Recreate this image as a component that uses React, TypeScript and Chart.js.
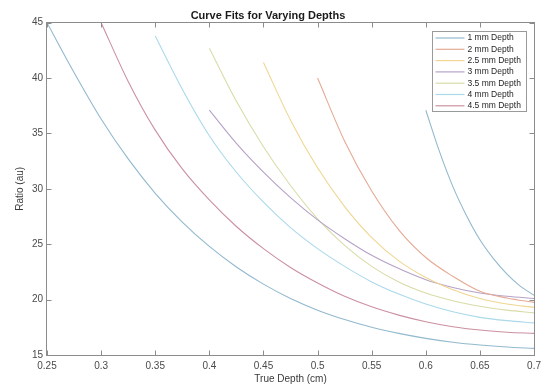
import { useEffect, useRef } from 'react';
import { Chart, registerables } from 'chart.js';

Chart.register(...registerables);

// ---- Data ----
const seriesLabels = ['1 mm Depth', '2 mm Depth', '2.5 mm Depth', '3 mm Depth', '3.5 mm Depth', '4 mm Depth', '4.5 mm Depth'];

const x1mm = [0.6, 0.6125, 0.625, 0.6375, 0.65, 0.6625, 0.675, 0.6875, 0.7];
const y1mm = [37.1, 33.4, 30.2, 27.6, 25.4, 23.7, 22.3, 21.2, 20.4];

const x2mm = [0.5, 0.525, 0.55, 0.575, 0.6, 0.625, 0.65, 0.675, 0.7];
const y2mm = [40, 34.3, 29.8, 26.3, 23.8, 22.1, 20.75, 20.15, 19.75];

const x25mm = [0.45, 0.475, 0.5, 0.525, 0.55, 0.575, 0.6, 0.625, 0.65, 0.675, 0.7];
const y25mm = [41.4, 36.2, 31.9, 28.4, 25.6, 23.5, 22.0, 20.9, 20.1, 19.6, 19.3];

const x3mm = [0.4, 0.425, 0.45, 0.475, 0.5, 0.525, 0.55, 0.575, 0.6, 0.625, 0.65, 0.675, 0.7];
const y3mm = [37.1, 34.1, 31.5, 29.2, 27.2, 25.5, 24.0, 22.8, 21.8, 21.1, 20.6, 20.3, 20.1];

const x35mm = [0.4, 0.425, 0.45, 0.475, 0.5, 0.525, 0.55, 0.575, 0.6, 0.625, 0.65, 0.675, 0.7];
const y35mm = [42.7, 37.9, 33.8, 30.3, 27.3, 24.9, 23.0, 21.6, 20.6, 19.9, 19.4, 19.05, 18.8];

const x4mm = [0.35, 0.375, 0.4, 0.425, 0.45, 0.475, 0.5, 0.525, 0.55, 0.575, 0.6, 0.625, 0.65, 0.675, 0.7];
const y4mm = [43.8, 39.0, 34.8, 31.5, 28.8, 26.5, 24.6, 23.0, 21.6, 20.5, 19.6, 18.9, 18.4, 18.1, 17.9];

const x45mm = [0.3, 0.325, 0.35, 0.375, 0.4, 0.425, 0.45, 0.475, 0.5, 0.525, 0.55, 0.575, 0.6, 0.625, 0.65, 0.675, 0.7];
const y45mm = [45, 39.7, 35.3, 31.8, 29.0, 26.6, 24.6, 22.9, 21.5, 20.3, 19.35, 18.6, 18.0, 17.55, 17.25, 17.05, 16.95];

// eighth curve (colour cycle restarts, not in legend)
const xExtra = [0.25, 0.275, 0.3, 0.325, 0.35, 0.375, 0.4, 0.425, 0.45, 0.475, 0.5, 0.525, 0.55, 0.575, 0.6, 0.625, 0.65, 0.675, 0.7];
const yExtra = [45, 40.5, 36.3, 32.7, 29.6, 27.0, 24.8, 22.95, 21.4, 20.1, 19.05, 18.2, 17.5, 16.95, 16.5, 16.15, 15.9, 15.72, 15.6];

const xTickLabels = ['0.25', '0.3', '0.35', '0.4', '0.45', '0.5', '0.55', '0.6', '0.65', '0.7'];
const yTickLabels = ['15', '20', '25', '30', '35', '40', '45'];

const seriesColors = ['#92b9ce', '#e5aa94', '#efd692', '#b6a2c8', '#d9dca8', '#abd9ea', '#cb91a0'];

const FONT = '"Liberation Sans", Arial, Helvetica, sans-serif';

const framePlugin = {
  id: 'matlabFrame',
  afterDraw(chart: any) {
    const { ctx, chartArea: a, scales } = chart;
    const xs = scales.x;
    const ys = scales.y;
    ctx.save();
    ctx.strokeStyle = '#8c8c8c';
    ctx.lineWidth = 1;
    const L = Math.round(a.left) - 0.5;
    const R = Math.round(a.right) + 0.5;
    const T = Math.round(a.top) - 0.5;
    const B = Math.round(a.bottom) + 0.5;
    ctx.strokeRect(L, T, R - L, B - T);
    ctx.beginPath();
    xs.ticks.forEach((t: any) => {
      const px = Math.round(xs.getPixelForValue(t.value)) + 0.5;
      ctx.moveTo(px, B);
      ctx.lineTo(px, B - 5);
      ctx.moveTo(px, T);
      ctx.lineTo(px, T + 5);
    });
    ys.ticks.forEach((t: any) => {
      const py = Math.round(ys.getPixelForValue(t.value)) + 0.5;
      ctx.moveTo(L, py);
      ctx.lineTo(L + 5, py);
      ctx.moveTo(R, py);
      ctx.lineTo(R - 5, py);
    });
    ctx.stroke();
    ctx.restore();
  },
};

const legendPlugin = {
  id: 'boxLegend',
  afterDraw(chart: any) {
    const { ctx, chartArea: a } = chart;
    const w = 94;
    const h = 80;
    const left = Math.round(a.right - 8 - w) + 0.5;
    const top = Math.round(a.top + 8) + 0.5;
    ctx.save();
    ctx.fillStyle = '#ffffff';
    ctx.fillRect(left, top, w, h);
    ctx.strokeStyle = '#9a9a9a';
    ctx.lineWidth = 1;
    ctx.strokeRect(left, top, w, h);
    ctx.font = `8.5px ${FONT}`;
    ctx.textBaseline = 'middle';
    ctx.textAlign = 'left';
    seriesLabels.forEach((lab, i) => {
      const y = top + 6.5 + i * 11.3;
      ctx.strokeStyle = seriesColors[i];
      ctx.lineWidth = 1.2;
      ctx.beginPath();
      ctx.moveTo(left + 3, y);
      ctx.lineTo(left + 32, y);
      ctx.stroke();
      ctx.fillStyle = '#262626';
      ctx.fillText(lab, left + 35, y);
    });
    ctx.restore();
  },
};

export default function App() {
  const canvasRef = useRef<HTMLCanvasElement | null>(null);

  useEffect(() => {
    document.body.style.margin = '0';
    const canvas = canvasRef.current;
    if (!canvas) return;

    const seriesX = [x1mm, x2mm, x25mm, x3mm, x35mm, x4mm, x45mm];
    const seriesY = [y1mm, y2mm, y25mm, y3mm, y35mm, y4mm, y45mm];

    const lineStyle = {
      borderWidth: 1.1,
      pointRadius: 0,
      fill: false,
      tension: 0.4,
      cubicInterpolationMode: 'monotone',
    };

    const datasets: any[] = seriesLabels.map((label, i) => ({
      label,
      data: seriesX[i].map((x, j) => ({ x, y: seriesY[i][j] })),
      borderColor: seriesColors[i],
      backgroundColor: seriesColors[i],
      ...lineStyle,
    }));
    datasets.push({
      label: '',
      data: xExtra.map((x, j) => ({ x, y: yExtra[j] })),
      borderColor: seriesColors[0],
      backgroundColor: seriesColors[0],
      ...lineStyle,
    });

    const chart = new Chart(canvas, {
      type: 'line',
      data: { datasets },
      plugins: [framePlugin, legendPlugin],
      options: {
        animation: false,
        responsive: false,
        maintainAspectRatio: false,
        layout: { padding: { left: 0, right: 10, top: 0, bottom: 0 } },
        plugins: {
          legend: { display: false },
          tooltip: { enabled: false },
          title: {
            display: true,
            text: 'Curve Fits for Varying Depths',
            color: '#1a1a1a',
            font: { family: FONT, size: 11, weight: 'bold' },
            padding: { top: 9, bottom: 0.5 },
          },
        },
        scales: {
          x: {
            type: 'linear',
            min: 0.25,
            max: 0.7,
            grid: { display: false, drawTicks: false },
            border: { display: false },
            ticks: {
              stepSize: 0.05,
              padding: 5,
              color: '#4a4a4a',
              font: { family: FONT, size: 10 },
              maxRotation: 0,
              autoSkip: false,
              callback: (_v: any, i: number) => xTickLabels[i],
            },
            title: {
              display: true,
              text: 'True Depth (cm)',
              color: '#3a3a3a',
              font: { family: FONT, size: 10 },
              padding: { top: 0, bottom: 0 },
            },
            afterFit: (s: any) => {
              s.height = 30;
            },
          },
          y: {
            type: 'linear',
            min: 15,
            max: 45,
            grid: { display: false, drawTicks: false },
            border: { display: false },
            ticks: {
              stepSize: 5,
              padding: 4,
              color: '#4a4a4a',
              font: { family: FONT, size: 10 },
              callback: (_v: any, i: number) => yTickLabels[i],
            },
            title: {
              display: true,
              text: 'Ratio (au)',
              color: '#3a3a3a',
              font: { family: FONT, size: 10 },
              padding: { top: 14.5, bottom: 0 },
            },
            afterFit: (s: any) => {
              s.width = 47;
            },
          },
        },
      },
    });

    return () => chart.destroy();
  }, []);

  return (
    <div style={{ width: 546, height: 385, background: '#ffffff' }}>
      <canvas ref={canvasRef} width={546} height={385} style={{ display: 'block' }} />
    </div>
  );
}
